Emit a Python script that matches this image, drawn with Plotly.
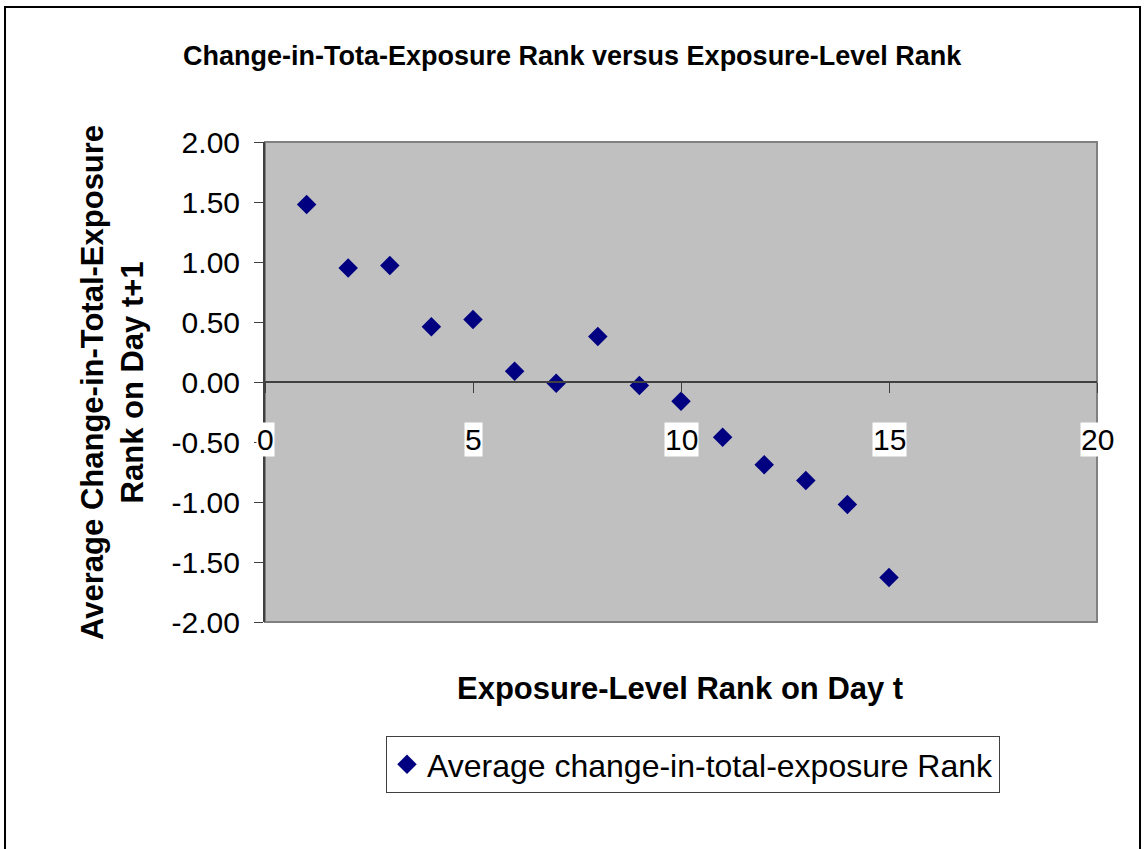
import plotly.graph_objects as go

# Data
exposure_rank = [1, 2, 3, 4, 5, 6, 7, 8, 9, 10, 11, 12, 13, 14, 15]
avg_change_rank = [1.48, 0.95, 0.97, 0.46, 0.52, 0.09, -0.01, 0.38, -0.03, -0.16,
                   -0.46, -0.69, -0.82, -1.02, -1.63]
x_ticks = [0, 5, 10, 15, 20]
y_ticks = [2.0, 1.5, 1.0, 0.5, 0.0, -0.5, -1.0, -1.5, -2.0]

title_text = "Change-in-Tota-Exposure Rank versus Exposure-Level Rank"
x_title = "Exposure-Level Rank on Day t"
y_title = "Average Change-in-Total-Exposure<br>Rank on Day t+1"
series_name = "Average change-in-total-exposure Rank"

FONT = "Liberation Sans, Arial, sans-serif"

fig = go.Figure()
fig.add_trace(go.Scatter(
    x=exposure_rank, y=avg_change_rank, mode="markers", name=series_name,
    marker=dict(symbol="diamond", size=15, color="#000080", line=dict(width=0)),
))

annotations = []
for t in x_ticks:
    annotations.append(dict(
        x=t, y=-0.48, xref="x", yref="y", text=str(t), showarrow=False,
        font=dict(family=FONT, size=30, color="black"), bgcolor="white",
        borderpad=0, xanchor="center", yanchor="middle",
    ))
annotations.append(dict(
    x=0.369, y=1.179, xref="paper", yref="paper", text="<b>" + title_text + "</b>",
    showarrow=False, font=dict(family=FONT, size=27, color="black"),
    xanchor="center", yanchor="middle",
))
annotations.append(dict(
    x=0.499, y=-0.1375, xref="paper", yref="paper", text="<b>" + x_title + "</b>",
    showarrow=False, font=dict(family=FONT, size=31, color="black"),
    xanchor="center", yanchor="middle",
))
annotations.append(dict(
    x=-0.184, y=0.5, xref="paper", yref="paper", text="<b>" + y_title + "</b>",
    showarrow=False, textangle=-90, font=dict(family=FONT, size=31, color="black"),
    xanchor="center", yanchor="middle",
))

fig.update_layout(
    width=1144, height=849,
    margin=dict(l=265, r=47, t=142, b=227),
    paper_bgcolor="white", plot_bgcolor="#C0C0C0",
    font=dict(family=FONT, color="black"),
    showlegend=True,
    legend=dict(
        x=0.1454, y=-0.2375, xanchor="left", yanchor="top",
        bordercolor="#404040", borderwidth=1, bgcolor="white",
        font=dict(family=FONT, size=32, color="black"),
        itemwidth=30, tracegroupgap=0,
    ),
    xaxis=dict(
        range=[0, 20], tickvals=x_ticks, showticklabels=False,
        anchor="free", position=0.5, showline=True, linecolor="#404040", linewidth=2,
        ticks="outside", ticklen=10, tickcolor="#404040", tickwidth=1,
        showgrid=False, zeroline=False,
    ),
    yaxis=dict(
        range=[-2, 2], tickvals=y_ticks, ticktext=[f"{v:.2f}" for v in y_ticks],
        showline=True, linecolor="#404040", linewidth=2,
        ticks="outside", ticklen=9, tickcolor="#404040", tickwidth=1,
        ticklabelstandoff=8,
        tickfont=dict(family=FONT, size=30, color="black"),
        showgrid=False, zeroline=False,
    ),
    annotations=annotations,
    shapes=[
        dict(type="rect", xref="paper", yref="paper", x0=0, x1=1, y0=0, y1=1,
             line=dict(color="#808080", width=2), layer="below"),
        dict(type="rect", xref="paper", yref="paper", x0=-0.3125, x1=1.0517,
             y0=-0.5, y1=1.2813, line=dict(color="black", width=2), layer="above"),
    ],
)

fig.write_html("out.html", config={"displayModeBar": False},
               post_script="document.body.style.margin='0';")
